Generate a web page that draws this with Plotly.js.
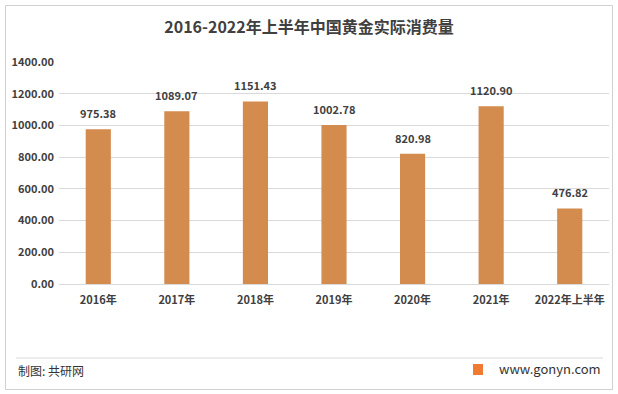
<!DOCTYPE html>
<html><head><meta charset="utf-8">
<script src="https://cdn.plot.ly/plotly-3.0.1.min.js"></script>
<style>html,body{margin:0;padding:0;background:#fff}#c{width:618px;height:394px}</style>
</head><body><div id="c"></div>
<script>
const categories = ["2016年","2017年","2018年","2019年","2020年","2021年","2022年上半年"];
const values = [975.38, 1089.07, 1151.43, 1002.78, 820.98, 1120.90, 476.82];
const yTicks = [0,200,400,600,800,1000,1200,1400];

const W=618,H=394,L=59,R=9,T=62,B=110;
const pw=W-L-R, ph=H-T-B;
const px=x=>(x-L)/pw, py=y=>(H-B-y)/ph;
const font="'Noto Sans CJK SC','Microsoft YaHei',sans-serif";

const trace={type:'bar',x:categories,y:values,
  marker:{color:'#D38B4E'},hoverinfo:'none'};

const labelAnns=categories.map((c,i)=>({x:c,y:values[i],xref:'x',yref:'y',text:values[i].toFixed(2),
  showarrow:false,yanchor:'bottom',yshift:6,font:{family:font,size:11,color:'#404040',weight:'bold'}}));

const layout={width:W,height:H,margin:{l:L,r:R,t:T,b:B},
  paper_bgcolor:'#fff',plot_bgcolor:'#fff',showlegend:false,bargap:0.68,
  title:{text:'<b>2016-2022年上半年中国黄金实际消费量</b>',font:{family:font,size:16,color:'#404040'},x:0.5,xanchor:'center',y:1-27/H,yanchor:'middle'},
  xaxis:{tickfont:{family:font,size:11,color:'#404040',weight:'bold'},showline:false,ticks:'',showgrid:false,ticklen:0,ticklabelstandoff:8},
  yaxis:{range:[0,1400],tickvals:yTicks,ticktext:yTicks.map(v=>v.toFixed(2)),
    tickfont:{family:font,size:11,color:'#404040',weight:'bold'},gridcolor:'#D9D9D9',gridwidth:1,zeroline:true,zerolinecolor:'#D9D9D9',showline:false,ticks:'',ticklen:0,ticklabelstandoff:4},
  shapes:[
    {type:'rect',xref:'paper',yref:'paper',x0:px(5.5),x1:px(612.5),y0:py(389.5),y1:py(5.5),line:{color:'#D0D0D0',width:1}},
    {type:'line',xref:'paper',yref:'paper',x0:px(16),x1:px(603),y0:py(358),y1:py(358),line:{color:'#D9D9D9',width:1}},
    {type:'rect',xref:'paper',yref:'paper',x0:px(473),x1:px(483),y0:py(375),y1:py(364),fillcolor:'#F07A32',line:{width:0}}
  ],
  annotations:labelAnns.concat([
    {text:'制图: 共研网',xref:'paper',yref:'paper',x:px(16),y:py(370),xanchor:'left',yanchor:'middle',showarrow:false,font:{family:font,size:12,color:'#333'}},
    {text:'www.gonyn.com',xref:'paper',yref:'paper',x:px(603),y:py(369),xanchor:'right',yanchor:'middle',showarrow:false,font:{family:font,size:13,color:'#333'}}
  ])};
Plotly.newPlot('c',[trace],layout,{displayModeBar:false,staticPlot:true});
</script></body></html>
